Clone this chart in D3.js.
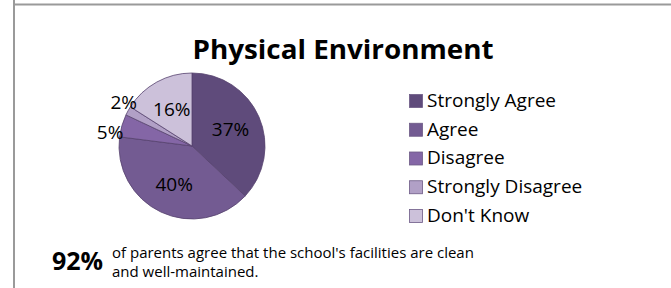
<!DOCTYPE html>
<html>
<head>
<meta charset="utf-8">
<script src="https://cdn.jsdelivr.net/npm/d3@7"></script>
<style>
  body { margin: 0; background: #fff; }
  text { font-family: "Open Sans", "DejaVu Sans", sans-serif; fill: #000; }
</style>
</head>
<body>
<script>
// canvas size
const width = 671;
const height = 288;

// chart data
const categories = ["Strongly Agree", "Agree", "Disagree", "Strongly Disagree", "Don't Know"];
const values = [37, 40, 5, 2, 16];
const colors = ["#5f4b7b", "#735b92", "#8466a6", "#b1a0c6", "#ccc1da"];
const title = "Physical Environment";
const bigStat = "92%";
const noteLines = ["of parents agree that the school's facilities are clean", "and well-maintained."];

const svg = d3.select("body").append("svg")
  .attr("width", width)
  .attr("height", height);

// panel border (left + top gray rules)
svg.append("line")
  .attr("x1", 14).attr("x2", 14).attr("y1", 0).attr("y2", height)
  .attr("stroke", "#9a9a9a").attr("stroke-width", 2);
svg.append("line")
  .attr("x1", 14).attr("x2", width).attr("y1", 4.5).attr("y2", 4.5)
  .attr("stroke", "#9a9a9a").attr("stroke-width", 2);

// title
svg.append("text")
  .attr("x", 343).attr("y", 59)
  .attr("text-anchor", "middle")
  .style("font-size", "27px")
  .style("font-weight", "bold")
  .attr("textLength", 301)
  .attr("lengthAdjust", "spacingAndGlyphs")
  .text(title);

// pie
const cx = 192, cy = 146, r = 73;
const pie = d3.pie().sort(null).value(d => d.value);
const slices = pie(categories.map((c, i) => ({ name: c, value: values[i] })));
const color = d3.scaleOrdinal().domain(categories).range(colors);

const arc = d3.arc().innerRadius(0).outerRadius(r);
const labelArc = d3.arc().innerRadius(42).outerRadius(42);

const pieG = svg.append("g").attr("transform", `translate(${cx},${cy})`);

pieG.selectAll("path")
  .data(slices)
  .enter()
  .append("path")
  .attr("d", arc)
  .attr("fill", d => color(d.data.name))
  .attr("stroke", "#57436f")
  .attr("stroke-width", 0.8);

// label positions: big slices inside, small ones outside (spread apart so they don't collide)
const inside = slices.filter(d => d.data.value >= 6);
const outside = slices.filter(d => d.data.value < 6);
outside.forEach(d => {
  const a = (d.startAngle + d.endAngle) / 2;
  d.ly = -Math.cos(a) * (r + 4);
});
outside.sort((a, b) => b.ly - a.ly);
for (let k = 0; k < 20; k++) {
  for (let i = 1; i < outside.length; i++) {
    const gap = outside[i - 1].ly - outside[i].ly;
    if (gap < 30) {
      const push = (30 - gap) / 2;
      outside[i - 1].ly += push;
      outside[i].ly -= push;
    }
  }
}
outside.forEach(d => {
  const side = Math.sin((d.startAngle + d.endAngle) / 2) < 0 ? -1 : 1;
  d.lx = side * (Math.sqrt(Math.max(0, r * r - d.ly * d.ly)) - 3);
  d.anchor = side < 0 ? "end" : "start";
});
inside.forEach(d => {
  const p = labelArc.centroid(d);
  d.lx = p[0];
  d.ly = p[1];
  d.anchor = "middle";
});

pieG.selectAll(".pct")
  .data(slices)
  .enter()
  .append("text")
  .attr("class", "pct")
  .attr("x", d => d.lx)
  .attr("y", d => d.ly)
  .attr("text-anchor", d => d.anchor)
  .attr("dy", "0.36em")
  .style("font-size", "19px")
  .text(d => d.data.value + "%");

// legend
const row = d3.scalePoint().domain(categories).range([100, 215]);

const item = svg.append("g").selectAll("g")
  .data(categories)
  .enter()
  .append("g")
  .attr("transform", d => `translate(409,${row(d)})`);

item.append("rect")
  .attr("x", 0.5).attr("y", -5.5)
  .attr("width", 13).attr("height", 13)
  .attr("fill", d => color(d))
  .attr("stroke", "#6d5a86")
  .attr("stroke-width", 0.8);

item.append("text")
  .attr("x", 18)
  .attr("dy", "0.36em")
  .style("font-size", "19px")
  .text(d => d);

// footnote
svg.append("text")
  .attr("x", 52).attr("y", 270)
  .style("font-size", "25px")
  .style("font-weight", "bold")
  .text(bigStat);

svg.append("g").selectAll("text")
  .data(noteLines)
  .enter()
  .append("text")
  .attr("x", 112)
  .attr("y", (d, i) => 258 + i * 19)
  .style("font-size", "15px")
  .text(d => d);
</script>
</body>
</html>
